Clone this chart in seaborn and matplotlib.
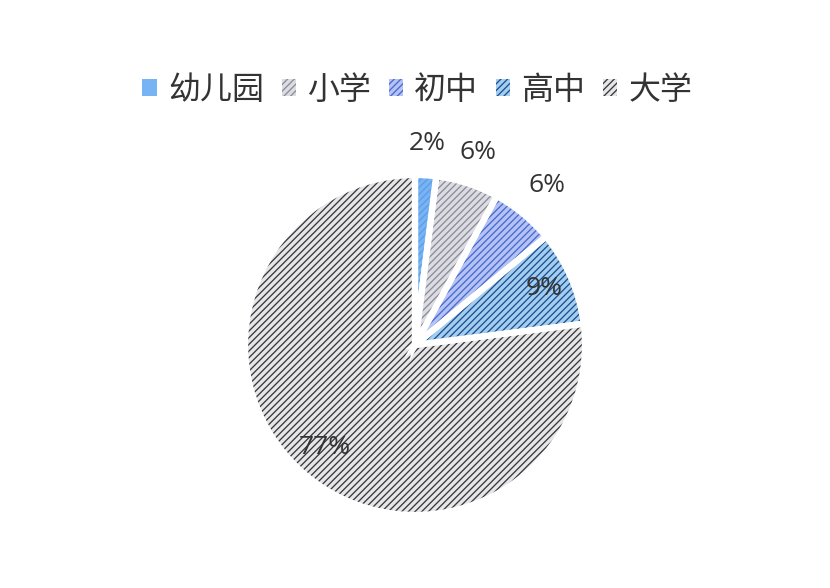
import numpy as np
import matplotlib
matplotlib.use("Agg")
import matplotlib.pyplot as plt
import seaborn as sns
from matplotlib.patches import Patch

labels = ['幼儿园', '小学', '初中', '高中', '大学']
values = [2, 6, 6, 9, 77]
face_colors = ['#78b4f4', '#dcdce4', '#b4c2f4', '#a4cef0', '#e6e6e8']
hatch_colors = ['#5c9ce8', '#8c8c94', '#4a6ad0', '#1f4f8f', '#38383c']
label_dist = [1.19, 1.19, 1.22, 0.83, 0.8]

sns.set_theme(style='white')
plt.rcParams['font.family'] = ['Noto Sans CJK SC', 'DejaVu Sans']
plt.rcParams['hatch.linewidth'] = 0.95

fig = plt.figure(figsize=(8.3, 5.88), dpi=100)
r_px = 170
cx, cy = 415, 588 - 345
ax = fig.add_axes([(cx - r_px) / 830, (cy - r_px) / 588, 2 * r_px / 830, 2 * r_px / 588])

# hatched wedges, hatch drawn in the edge colour
wedges, _ = ax.pie(values, startangle=90, counterclock=False, colors=face_colors,
                   wedgeprops=dict(linewidth=0))
for w, hc in zip(wedges, hatch_colors):
    w.set_edgecolor(hc)
    w.set_hatch('/////')
    w.set_linewidth(0)

# white gaps between slices
ax.pie(values, startangle=90, counterclock=False, colors=['none'] * len(values),
       wedgeprops=dict(linewidth=4.5, edgecolor='white'))

total = sum(values)
for w, v, d in zip(wedges, values, label_dist):
    ang = np.deg2rad((w.theta1 + w.theta2) / 2)
    ax.text(d * np.cos(ang), d * np.sin(ang), f'{round(100 * v / total)}%',
            ha='center', va='center', fontsize=19, color='#333333',
            family=['Open Sans', 'DejaVu Sans'])

ax.set_xlim(-1, 1)
ax.set_ylim(-1, 1)
ax.set_aspect('equal')
ax.axis('off')

handles = [Patch(facecolor=fc, edgecolor=hc, hatch='/////', linewidth=0)
           for fc, hc in zip(face_colors, hatch_colors)]
handles[0].set_hatch(None)
fig.legend(handles, labels, loc='center', bbox_to_anchor=(0.503, 1 - 90 / 588), ncol=5,
           frameon=False, prop=dict(size=23),
           handlelength=0.45, handleheight=0.45,
           handletextpad=0.35, columnspacing=0.55, labelcolor='#333333')

fig.savefig('out.png', dpi=100, facecolor='white')
